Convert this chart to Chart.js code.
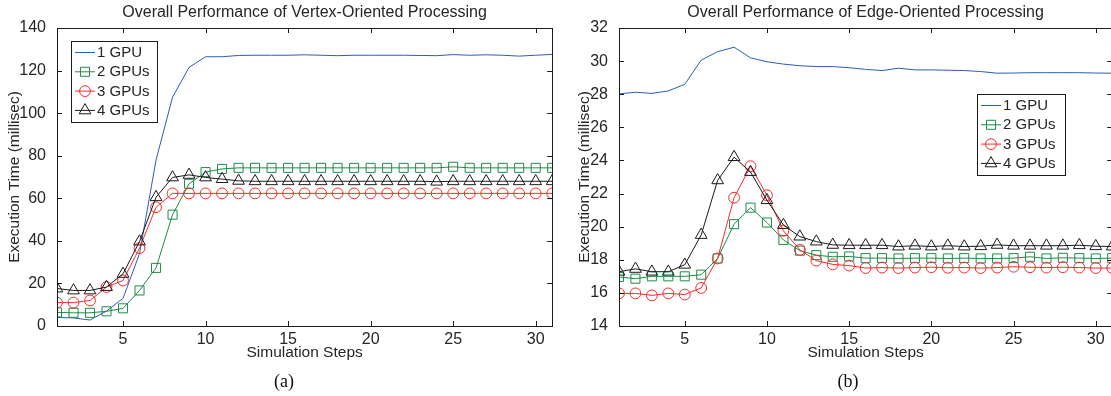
<!DOCTYPE html>
<html>
<head>
<meta charset="utf-8">
<script src="https://cdn.jsdelivr.net/npm/chart.js@4.4.1/dist/chart.umd.min.js"></script>
<style>
  html, body { margin: 0; padding: 0; background: #fff; width: 1111px; height: 396px; overflow: hidden; }
  .panel { position: absolute; top: 0; width: 560px; height: 396px; }
  #panelA { left: 0; }
  #panelB { left: 560px; }
</style>
</head>
<body>
<div class="panel" id="panelA"><canvas id="chart-vertex" width="560" height="396"></canvas></div>
<div class="panel" id="panelB"><canvas id="chart-edge" width="560" height="396"></canvas></div>
<script>
// data
const steps = [1, 2, 3, 4, 5, 6, 7, 8, 9, 10, 11, 12, 13, 14, 15, 16, 17, 18, 19, 20, 21, 22, 23, 24, 25, 26, 27, 28, 29, 30, 31];
const xTicks = [5, 10, 15, 20, 25, 30];
const vertexTicksY = [0, 20, 40, 60, 80, 100, 120, 140];
const edgeTicksY = [14, 16, 18, 20, 22, 24, 26, 28, 30, 32];
const seriesNames = ['1 GPU', '2 GPUs', '3 GPUs', '4 GPUs'];

// (a) vertex-oriented
const vertex1 = [4.0, 3.8, 2.8, 7.0, 13.0, 34.0, 78.0, 107.5, 121.5, 126.5, 126.5, 127.1, 127.2, 127.2, 127.2, 127.4, 127.2, 127.0, 127.2, 127.2, 127.2, 127.2, 127.1, 127.0, 127.5, 127.2, 127.4, 127.2, 126.8, 127.2, 127.6];
const vertex2 = [6.4, 6.2, 6.2, 6.9, 8.3, 16.7, 27.3, 52.3, 66.8, 72.3, 73.8, 74.3, 74.3, 74.3, 74.3, 74.3, 74.3, 74.3, 74.3, 74.3, 74.3, 74.3, 74.3, 74.3, 74.8, 74.3, 74.3, 74.3, 74.3, 74.3, 74.3];
const vertex3 = [11.0, 11.0, 12.0, 18.3, 21.4, 36.6, 55.8, 62.3, 62.3, 62.3, 62.3, 62.3, 62.3, 62.3, 62.3, 62.3, 62.3, 62.3, 62.3, 62.3, 62.3, 62.3, 62.3, 62.3, 62.3, 62.3, 62.3, 62.3, 62.3, 62.3, 62.3];
const vertex4 = [17.6, 16.7, 16.7, 18.3, 24.5, 39.7, 60.5, 69.8, 71.0, 69.8, 69.0, 68.2, 68.0, 68.0, 68.0, 68.0, 68.0, 68.0, 68.0, 68.0, 68.0, 68.0, 68.0, 67.8, 68.0, 68.0, 68.0, 68.0, 68.0, 68.0, 68.0];

// (b) edge-oriented
const edge1 = [28.02, 28.12, 28.05, 28.2, 28.6, 30.06, 30.57, 30.84, 30.2, 29.96, 29.82, 29.72, 29.67, 29.67, 29.6, 29.5, 29.43, 29.57, 29.47, 29.47, 29.45, 29.43, 29.37, 29.27, 29.28, 29.3, 29.3, 29.3, 29.3, 29.28, 29.27];
const edge2 = [16.96, 16.86, 17.0, 17.0, 17.0, 17.1, 18.08, 20.15, 21.15, 20.25, 19.2, 18.55, 18.28, 18.18, 18.2, 18.1, 18.1, 18.08, 18.1, 18.1, 18.08, 18.1, 18.08, 18.08, 18.1, 18.18, 18.08, 18.12, 18.1, 18.08, 18.1];
const edge3 = [15.97, 15.97, 15.85, 15.97, 15.9, 16.3, 18.08, 21.75, 23.65, 21.9, 19.75, 18.6, 17.95, 17.72, 17.65, 17.5, 17.53, 17.5, 17.53, 17.55, 17.52, 17.53, 17.5, 17.53, 17.58, 17.55, 17.53, 17.55, 17.53, 17.5, 17.5];
const edge4 = [17.28, 17.45, 17.28, 17.28, 17.7, 19.5, 22.8, 24.2, 23.3, 21.6, 20.1, 19.4, 19.1, 18.9, 18.88, 18.88, 18.88, 18.8, 18.85, 18.8, 18.85, 18.8, 18.82, 18.9, 18.85, 18.85, 18.85, 18.85, 18.88, 18.82, 18.8];

const lineColors = ['#2d5db6', '#1f8b48', '#f02c2c', '#1a1a1a'];
const markers = ['line', 'rect', 'circle', 'triangle'];
const markerSize = [0, 6.4, 5.4, 6.8];
const FONT = '"Liberation Sans", Arial, Helvetica, sans-serif';
const TEXT = '#262626';

function drawMarker(ctx, style, r, x, y) {
  ctx.beginPath();
  if (style === 'rect') {
    const s = r * Math.SQRT1_2;
    ctx.rect(x - s, y - s, 2 * s, 2 * s);
  } else if (style === 'circle') {
    ctx.arc(x, y, r, 0, Math.PI * 2);
  } else if (style === 'triangle') {
    for (let k = 0; k < 3; k++) {
      const a = k * 2 * Math.PI / 3;
      ctx.lineTo(x + Math.sin(a) * r, y - Math.cos(a) * r);
    }
    ctx.closePath();
  } else {
    return;
  }
  ctx.stroke();
}

// box, inward ticks, texts and the boxed legend
const matlabFrame = {
  id: 'matlabFrame',
  afterDraw(chart, args, o) {
    const { ctx, chartArea: a, scales: { x, y } } = chart;
    ctx.save();
    ctx.strokeStyle = '#1a1a1a';
    ctx.lineWidth = 1;
    ctx.strokeRect(Math.round(a.left) + 0.5, Math.round(a.top) + 0.5, Math.round(a.right - a.left), Math.round(a.bottom - a.top));
    ctx.beginPath();
    x.ticks.forEach(t => {
      const px = Math.round(x.getPixelForValue(t.value)) + 0.5;
      ctx.moveTo(px, a.bottom); ctx.lineTo(px, a.bottom - 5);
      ctx.moveTo(px, a.top); ctx.lineTo(px, a.top + 5);
    });
    y.ticks.forEach(t => {
      const py = Math.round(y.getPixelForValue(t.value)) + 0.5;
      ctx.moveTo(a.left, py); ctx.lineTo(a.left + 5, py);
      ctx.moveTo(a.right, py); ctx.lineTo(a.right - 5, py);
    });
    ctx.stroke();

    const cx = (a.left + a.right) / 2;
    ctx.fillStyle = TEXT;
    ctx.textAlign = 'center';
    ctx.textBaseline = 'middle';
    ctx.font = '16px ' + FONT;
    ctx.fillText(o.title, cx, 13);
    ctx.font = '15.5px ' + FONT;
    ctx.fillText('Simulation Steps', cx, 353);
    ctx.save();
    ctx.translate(o.yTitleX, (a.top + a.bottom) / 2);
    ctx.rotate(-Math.PI / 2);
    ctx.fillText('Execution Time (millisec)', 0, 0);
    ctx.restore();
    ctx.font = '18px "Liberation Serif", "Times New Roman", serif';
    ctx.fillStyle = '#111';
    ctx.fillText(o.caption, o.captionX, 382);

    // legend
    const L = o.legend;
    ctx.fillStyle = '#fff';
    ctx.fillRect(L.x, L.y, L.w, L.h);
    ctx.strokeStyle = '#1a1a1a';
    ctx.strokeRect(L.x + 0.5, L.y + 0.5, L.w, L.h);
    ctx.font = '15px ' + FONT;
    ctx.textAlign = 'left';
    chart.data.datasets.forEach((ds, i) => {
      const ry = L.y + 11.5 + i * 19.3;
      ctx.strokeStyle = ds.borderColor;
      ctx.beginPath();
      ctx.moveTo(L.x + 4, ry); ctx.lineTo(L.x + 24, ry);
      ctx.stroke();
      drawMarker(ctx, markers[i], markerSize[i], L.x + 14, ry);
      ctx.fillStyle = TEXT;
      ctx.fillText(ds.label, L.x + 26, ry + 0.5);
    });
    ctx.restore();
  }
};

function makeDatasets(series) {
  return series.map((vals, i) => ({
    label: seriesNames[i],
    data: vals.map((v, j) => ({ x: steps[j], y: v })),
    borderColor: lineColors[i],
    backgroundColor: lineColors[i],
    borderWidth: 1,
    pointStyle: markers[i] === 'line' ? false : markers[i],
    pointRadius: markerSize[i],
    pointBorderColor: lineColors[i],
    pointBackgroundColor: 'rgba(0,0,0,0)',
    pointBorderWidth: 1,
    order: 3 - i,
    tension: 0
  }));
}

function makeChart(canvasId, series, yTicks, axisLeft, padRight, frameOpts) {
  const ctx = document.getElementById(canvasId).getContext('2d');
  return new Chart(ctx, {
    type: 'line',
    data: { datasets: makeDatasets(series) },
    plugins: [matlabFrame],
    options: {
      responsive: false,
      animation: false,
      layout: { padding: { left: 0, right: padRight, top: 28, bottom: 40 } },
      plugins: {
        legend: { display: false },
        tooltip: { enabled: false },
        matlabFrame: frameOpts
      },
      scales: {
        x: {
          type: 'linear',
          min: steps[0],
          max: steps[steps.length - 1],
          grid: { display: false },
          border: { display: false },
          afterBuildTicks: s => { s.ticks = xTicks.map(v => ({ value: v })); },
          afterFit: s => { s.height = 30; },
          ticks: { color: TEXT, padding: -4, maxRotation: 0, font: { family: FONT, size: 16 } }
        },
        y: {
          min: yTicks[0],
          max: yTicks[yTicks.length - 1],
          grid: { display: false },
          border: { display: false },
          afterBuildTicks: s => { s.ticks = yTicks.map(v => ({ value: v })); },
          afterFit: s => { s.width = axisLeft; },
          ticks: { color: TEXT, padding: 3, font: { family: FONT, size: 16 } }
        }
      }
    }
  });
}

const vertexChart = makeChart('chart-vertex', [vertex1, vertex2, vertex3, vertex4], vertexTicksY, 57, 5, {
  title: 'Overall Performance of Vertex-Oriented Processing',
  caption: '(a)', captionX: 284, yTitleX: 15,
  legend: { x: 71, y: 41, w: 86, h: 81 }
});

const edgeChart = makeChart('chart-edge', [edge1, edge2, edge3, edge4], edgeTicksY, 59, 6, {
  title: 'Overall Performance of Edge-Oriented Processing',
  caption: '(b)', captionX: 288, yTitleX: 25,
  legend: { x: 417, y: 94, w: 88, h: 81 }
});
</script>
</body>
</html>
